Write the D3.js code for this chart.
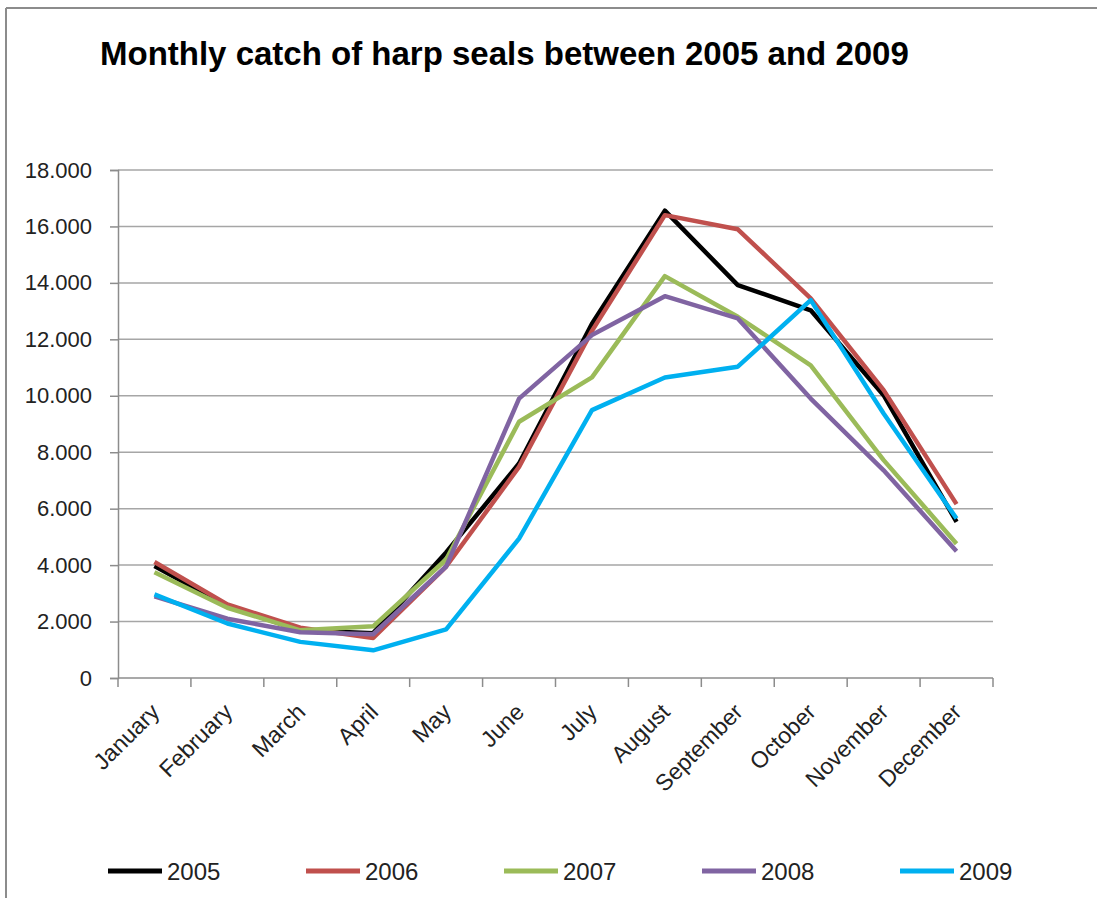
<!DOCTYPE html>
<html>
<head>
<meta charset="utf-8">
<script src="https://cdn.jsdelivr.net/npm/d3@7"></script>
<style>
  body { margin: 0; background: #fff; }
  text { font-family: "Liberation Sans", Arial, sans-serif; fill: #222; }
</style>
</head>
<body>
<div id="chart"></div>
<script>
// data
var months = ["January", "February", "March", "April", "May", "June", "July",
              "August", "September", "October", "November", "December"];
var years = ["2005", "2006", "2007", "2008", "2009"];
var colors = ["#000000", "#C0504D", "#9BBB59", "#8064A2", "#00B0F0"];
var catch2005 = [3970, 2550, 1690, 1590, 4450, 7600, 12550, 16560, 13920, 13030, 10020, 5530];
var catch2006 = [4110, 2610, 1780, 1420, 3950, 7480, 12300, 16400, 15900, 13450, 10200, 6160];
var catch2007 = [3750, 2490, 1690, 1830, 4200, 9080, 10650, 14240, 12800, 11080, 7720, 4760];
var catch2008 = [2890, 2100, 1620, 1550, 3950, 9900, 12150, 13530, 12740, 9900, 7360, 4490];
var catch2009 = [2960, 1930, 1280, 980, 1720, 4940, 9490, 10650, 11030, 13390, 9370, 5650];
var yTicks = [0, 2000, 4000, 6000, 8000, 10000, 12000, 14000, 16000, 18000];

var series = [catch2005, catch2006, catch2007, catch2008, catch2009];

const width = 1097, height = 898;

var svg = d3.select("#chart").append("svg")
    .attr("width", width)
    .attr("height", height);

// chart frame
svg.append("line").attr("x1", 6).attr("x2", width).attr("y1", 8).attr("y2", 8)
    .style("stroke", "#8c8c8c").style("stroke-width", 2);
svg.append("line").attr("x1", 6).attr("x2", 6).attr("y1", 8).attr("y2", height)
    .style("stroke", "#8c8c8c").style("stroke-width", 2);

svg.append("text")
    .attr("x", 100).attr("y", 65)
    .style("font-size", "33px").style("font-weight", "bold").style("fill", "#000")
    .text("Monthly catch of harp seals between 2005 and 2009");

var x = d3.scaleBand().domain(months).range([118, 993]).padding(0);
var y = d3.scaleLinear().domain([0, 18000]).range([678, 170]);

var fmt = d3.formatLocale({decimal: ",", thousands: ".", grouping: [3], currency: ["", ""]}).format(",d");

// gridlines
svg.append("g")
  .selectAll("line")
  .data(yTicks.filter(function(d){ return d > 0; }))
  .enter().append("line")
    .attr("x1", 118).attr("x2", 993)
    .attr("y1", function(d){ return y(d); })
    .attr("y2", function(d){ return y(d); })
    .style("stroke", "#a6a6a6").style("stroke-width", 1.5);

// y axis
var yAxis = svg.append("g")
    .attr("transform", "translate(118,0)")
    .call(d3.axisLeft(y).tickValues(yTicks).tickSize(8).tickPadding(18).tickFormat(fmt));
yAxis.select(".domain").style("stroke", "#8c8c8c").style("stroke-width", 1.5);
yAxis.selectAll(".tick line").style("stroke", "#8c8c8c").style("stroke-width", 1.5);
yAxis.selectAll(".tick text").style("font-size", "22px").style("font-family", "Liberation Sans").style("fill", "#222");

// x axis
svg.append("line").attr("x1", 118).attr("x2", 993).attr("y1", 678).attr("y2", 678)
    .style("stroke", "#8c8c8c").style("stroke-width", 1.5);
var edges = months.map(function(m){ return x(m); }).concat([x.range()[1]]);
svg.append("g").selectAll("line")
  .data(edges)
  .enter().append("line")
    .attr("x1", function(d){ return d; }).attr("x2", function(d){ return d; })
    .attr("y1", 678).attr("y2", 687)
    .style("stroke", "#8c8c8c").style("stroke-width", 1.5);

svg.append("g").selectAll("text")
  .data(months)
  .enter().append("text")
    .attr("transform", function(d){
      return "translate(" + (x(d) + x.bandwidth() / 2 - 5) + ",702) rotate(-45)";
    })
    .attr("text-anchor", "end")
    .attr("dy", "0.7em")
    .style("font-size", "23px")
    .text(function(d){ return d; });

// lines
var line = d3.line()
    .x(function(d, i){ return x(months[i]) + x.bandwidth() / 2; })
    .y(function(d){ return y(d); });

svg.append("g").selectAll("path")
  .data(series)
  .enter().append("path")
    .attr("d", line)
    .attr("fill", "none")
    .attr("stroke", function(d, i){ return colors[i]; })
    .attr("stroke-width", 4.5)
    .attr("stroke-linejoin", "round");

// legend
var legend = svg.append("g").selectAll("g")
  .data(years)
  .enter().append("g")
    .attr("transform", function(d, i){ return "translate(" + (108 + i * 198) + ",871)"; });
legend.append("line")
    .attr("x1", 0).attr("x2", 54).attr("y1", 0).attr("y2", 0)
    .attr("stroke", function(d, i){ return colors[i]; })
    .attr("stroke-width", 5);
legend.append("text")
    .attr("x", 59).attr("y", 9)
    .style("font-size", "24px")
    .text(function(d){ return d; });
</script>
</body>
</html>
